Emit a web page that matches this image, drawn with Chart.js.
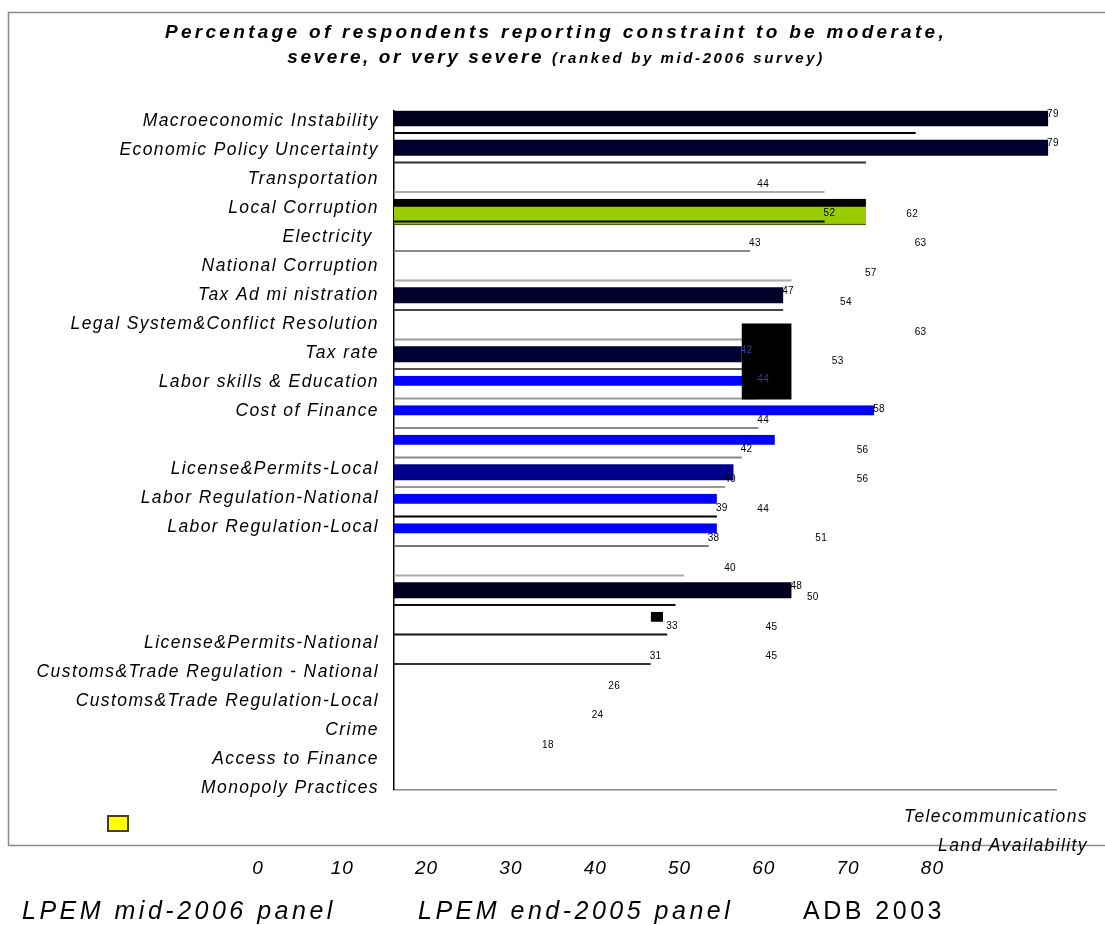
<!DOCTYPE html>
<html>
<head>
<meta charset="utf-8">
<script src="https://cdn.jsdelivr.net/npm/chart.js@4.4.1/dist/chart.umd.min.js"></script>
<style>
  body { margin: 0; background: #fff; }
  #wrap { width: 1105px; height: 925px; }
</style>
</head>
<body>
<div id="wrap"><canvas id="constraints" width="1105" height="925"></canvas></div>
<script>
'use strict';

// ROW NAMES (left side, '' = empty row)
var rowNames = [
  'Macroeconomic Instability', 'Economic Policy Uncertainty', 'Transportation',
  'Local Corruption', 'Electricity ', 'National Corruption', 'Tax Ad mi nistration',
  'Legal System&Conflict Resolution', 'Tax rate', 'Labor skills & Education',
  'Cost of Finance', '', 'License&Permits-Local', 'Labor Regulation-National',
  'Labor Regulation-Local', '', '', '', 'License&Permits-National',
  'Customs&Trade Regulation - National', 'Customs&Trade Regulation-Local', 'Crime',
  'Access to Finance', 'Monopoly Practices'
];
var sideNames = ['Telecommunications', 'Land Availability'];

// BAR ROWS
var categories = rowNames.slice(0, 23);

// SERIES (% of respondents)
var mid2006 = [79, 79, null, 57, null, null, 47, null, 42, 44, 58, 46, 41, 39, 39, null, 48, [31, 32.5], null, null, null, null, null];
var end2005 = [63, 57, 52, 52, 43, 48, 47, 44, 44, 44, 44, 42, 40, 39, 38, 35, 34, 33, 31, null, null, null, null];
var adb2003 = [null, null, 44, 62, 63, 57, 54, 63, 53, null, null, 56, 56, 44, 51, 40, 50, 45, 45, 26, 24, 18, null];
var electricity2006 = [null, null, null, 57, null, null, null, null, null, null, null, null, null, null, null, null, null, null, null, null, null, null, null];
var highlight = [null, null, null, null, null, null, null, null, [42, 48], null, null, null, null, null, null, null, null, null, null, null, null, null, null];

// rows whose values are printed
var midLabelRows = [0, 1, 6, 8, 9, 10, 16];
var endLabelRows = [3, 4, 10, 11, 12, 13, 14, 17, 18];

// TICKS / LEGEND / TITLE
var tickLabels = ['0', '10', '20', '30', '40', '50', '60', '70', '80'];
var seriesNames = ['LPEM mid-2006 panel', 'LPEM end-2005 panel', 'ADB 2003'];
var titleLine1 = 'Percentage of respondents reporting constraint to be moderate,';
var titleLine2 = 'severe, or very severe';
var titleNote = '(ranked by mid-2006 survey)';

// COLOURS
var midColors = ['#00001c', '#00002e', null, '#000000', null, null, '#00002a', null, '#000033', '#0000ff', '#0000ff', '#0000ff', '#00008b', '#0000ff', '#0000ff', null, '#00001e', '#000000'];
var endColors = ['#000000', '#333333', '#aaaaaa', '#000000', '#888888', '#aaaaaa', '#444444', '#999999', '#555555', '#999999', '#888888', '#888888', '#999999', '#000000', '#777777', '#aaaaaa', '#111111', '#111111', '#333333'];
// thinner bars: cut from the bottom of the 16px slot
var barCut = { 3: 8, 9: 6, 10: 6, 11: 6, 13: 6, 14: 6, 17: 6 };

// LAYOUT
var plotLeft = 394, plotTop = 110.75, plotBottom = 789.25, plotRight = 1056.4;
var labelTop = 121.5, labelPitch = 29;
var labelMin = -(labelTop - plotTop) / labelPitch;
var labelMax = labelMin + (plotBottom - plotTop) / labelPitch;
var FONT = '"Liberation Sans", Arial, sans-serif';

Chart.defaults.font.family = FONT;

// FRAME, TITLE, TICK ROW, LEGEND
var decorations = {
  id: 'decorations',
  beforeDraw: function(chart) {
    var ctx = chart.ctx;
    ctx.save();
    ctx.fillStyle = '#fff';
    ctx.fillRect(0, 0, chart.width, chart.height);
    ctx.strokeStyle = '#8c8c8c';
    ctx.lineWidth = 1.5;
    ctx.strokeRect(8.5, 12.5, 1110, 833);
    ctx.restore();
    // row names are spaced out a little
    ctx.letterSpacing = '1.4px';
  },
  afterDraw: function(chart) {
    var ctx = chart.ctx;
    ctx.letterSpacing = '0px';
    ctx.save();
    ctx.fillStyle = '#000';
    ctx.textBaseline = 'middle';

    // title
    ctx.letterSpacing = '3.3px';
    ctx.font = 'italic bold 19px ' + FONT;
    ctx.textAlign = 'center';
    ctx.fillText(titleLine1, 556, 33);
    ctx.letterSpacing = '2.6px';
    var w1 = ctx.measureText(titleLine2 + ' ').width;
    ctx.font = 'italic bold 15px ' + FONT;
    var w2 = ctx.measureText(titleNote).width;
    var sx = 556 - (w1 + w2) / 2;
    ctx.textAlign = 'left';
    ctx.font = 'italic bold 19px ' + FONT;
    ctx.fillText(titleLine2 + ' ', sx, 58);
    ctx.font = 'italic bold 15px ' + FONT;
    ctx.fillText(titleNote, sx + w1, 59);

    // side row names
    var yText = chart.scales.yText;
    ctx.letterSpacing = '1.4px';
    ctx.font = 'italic 17.5px ' + FONT;
    ctx.textAlign = 'right';
    sideNames.forEach(function(name, i) {
      ctx.fillText(name, 1088, yText.getPixelForValue(rowNames.length + i));
    });

    // tick row
    ctx.letterSpacing = '1px';
    ctx.font = 'italic 19px ' + FONT;
    ctx.textAlign = 'center';
    tickLabels.forEach(function(t, i) {
      ctx.fillText(t, 258 + i * 84.3, 869);
    });

    // legend
    ctx.letterSpacing = '3.5px';
    ctx.textAlign = 'left';
    var legendX = [22, 418, 803];
    seriesNames.forEach(function(name, i) {
      ctx.font = (i < 2 ? 'italic ' : '') + '25px ' + FONT;
      ctx.fillText(name, legendX[i], 912);
    });

    // swatch
    ctx.fillStyle = '#ffff00';
    ctx.fillRect(108, 816, 20, 15);
    ctx.strokeStyle = '#4d4000';
    ctx.lineWidth = 2;
    ctx.strokeRect(108, 816, 20, 15);
    ctx.restore();
  }
};

// VALUE LABELS
var valueLabels = {
  id: 'valueLabels',
  afterDatasetsDraw: function(chart) {
    var ctx = chart.ctx;
    var box = chart.getDatasetMeta(4).data[8];
    ctx.save();
    ctx.letterSpacing = '0.3px';
    ctx.font = '10px ' + FONT;
    ctx.textAlign = 'left';
    ctx.textBaseline = 'middle';
    function put(datasetIndex, rows, dy) {
      var meta = chart.getDatasetMeta(datasetIndex);
      var data = chart.data.datasets[datasetIndex].data;
      rows.forEach(function(i) {
        var el = meta.data[i];
        if (!el || data[i] == null) return;
        var x = el.x - 1, y = el.y + dy;
        ctx.fillStyle = box && box.inRange(x + 4, y) ? '#3a3aa0' : '#000';
        ctx.fillText(String(data[i]), x, y);
      });
    }
    put(0, midLabelRows, -4);
    put(1, endLabelRows, -8);
    put(2, adb2003.map(function(v, i) { return i; }), 0);
    ctx.restore();
  }
};

var ctx = document.getElementById('constraints').getContext('2d');

var chart = new Chart(ctx, {
  type: 'bar',
  data: {
    labels: categories,
    datasets: [{
      label: seriesNames[0],
      data: mid2006,
      order: 0,
      xAxisID: 'x', yAxisID: 'y',
      backgroundColor: midColors,
      borderColor: 'rgba(0,0,0,0)',
      borderWidth: function(c) {
        var cut = barCut[c.dataIndex];
        return cut ? { top: 0, right: 0, bottom: cut, left: 0 } : 0;
      },
      categoryPercentage: 1,
      barPercentage: 1.2,
      maxBarThickness: 16
    }, {
      label: seriesNames[1],
      data: end2005,
      order: 1,
      xAxisID: 'x', yAxisID: 'y',
      backgroundColor: endColors,
      categoryPercentage: 1,
      barPercentage: 0.5,
      maxBarThickness: 2
    }, {
      label: seriesNames[2],
      data: adb2003,
      order: 4,
      grouped: false,
      xAxisID: 'x', yAxisID: 'y',
      backgroundColor: 'rgba(0,0,0,0)',
      categoryPercentage: 1,
      barPercentage: 1,
      maxBarThickness: 4
    }, {
      label: 'Electricity',
      data: electricity2006,
      order: 5,
      grouped: false,
      xAxisID: 'x', yAxisID: 'y',
      backgroundColor: '#99cc00',
      borderColor: '#4a5a10',
      borderWidth: { top: 0, right: 0, bottom: 1.5, left: 0 },
      categoryPercentage: 1,
      barPercentage: 1,
      maxBarThickness: 22
    }, {
      label: 'highlight',
      data: highlight,
      order: -1,
      grouped: false,
      xAxisID: 'x', yAxisID: 'y',
      backgroundColor: '#000000',
      categoryPercentage: 1,
      barPercentage: 3,
      maxBarThickness: 76
    }]
  },
  options: {
    indexAxis: 'y',
    responsive: false,
    maintainAspectRatio: false,
    devicePixelRatio: 1,
    animation: false,
    layout: {
      padding: { top: plotTop, bottom: 925 - plotBottom, left: 0, right: 1105 - plotRight }
    },
    plugins: {
      legend: { display: false },
      title: { display: false },
      tooltip: { enabled: false }
    },
    scales: {
      x: {
        type: 'linear',
        position: 'bottom',
        min: 0,
        max: 80,
        stacked: false,
        grid: { display: false, drawTicks: false },
        border: { display: true, color: '#8c8c8c', width: 1.5 },
        ticks: { display: false },
        afterFit: function(scale) { scale.height = 0; }
      },
      y: {
        type: 'category',
        position: 'left',
        weight: 0,
        grid: { display: false, drawTicks: false },
        border: { display: true, color: '#000', width: 1.5 },
        ticks: { display: false },
        afterFit: function(scale) { scale.width = 0; }
      },
      yText: {
        type: 'linear',
        position: 'left',
        weight: 1,
        reverse: true,
        offset: false,
        bounds: 'data',
        min: labelMin,
        max: labelMax,
        grid: { display: false, drawTicks: false, offset: false },
        border: { display: false },
        afterBuildTicks: function(scale) {
          scale.ticks = rowNames
            .map(function(name, i) { return { value: i }; })
            .filter(function(t) { return rowNames[t.value] !== ''; });
        },
        afterFit: function(scale) { scale.width = plotLeft; },
        ticks: {
          autoSkip: false,
          padding: 15,
          color: '#000',
          font: { size: 17.5, style: 'italic' },
          callback: function(v) { return rowNames[v]; }
        }
      }
    }
  },
  plugins: [decorations, valueLabels]
});
</script>
</body>
</html>
